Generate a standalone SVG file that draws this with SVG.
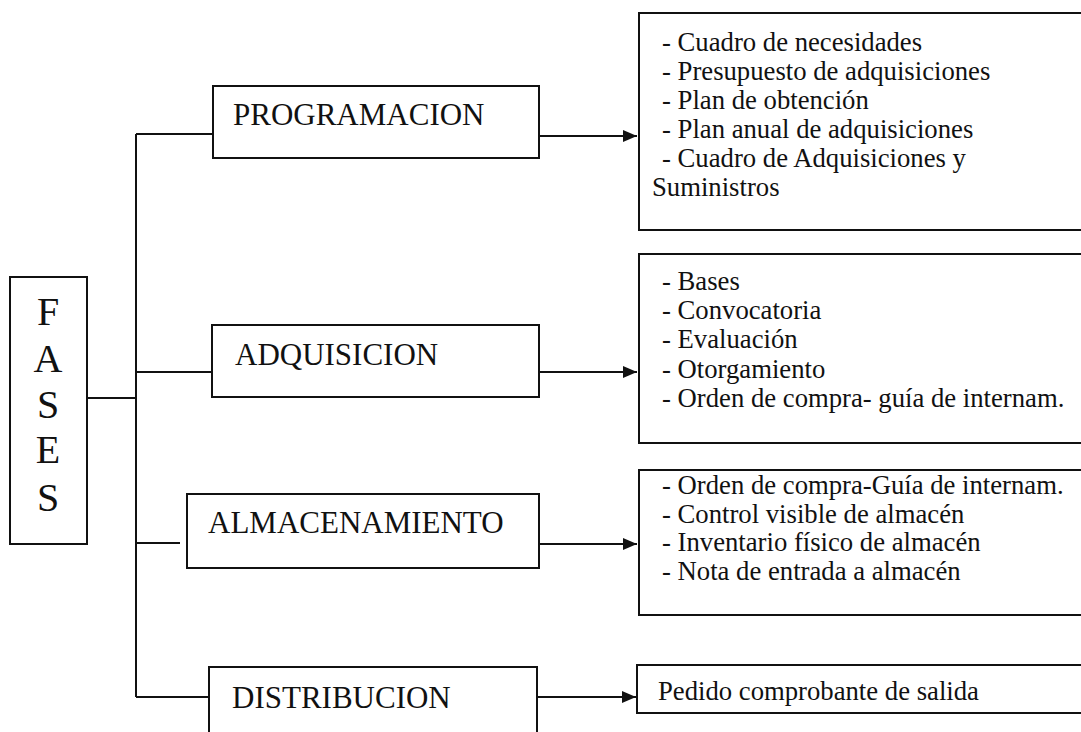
<svg xmlns="http://www.w3.org/2000/svg" width="1081" height="732" viewBox="0 0 1081 732">
<style>
.box{fill:#fff;stroke:#111;stroke-width:2}
.ln{fill:none;stroke:#111;stroke-width:2}
.lbl{font-family:"Liberation Serif","Times New Roman",serif;font-size:31px;fill:#111}
.big{font-family:"Liberation Serif","Times New Roman",serif;font-size:40px;fill:#111;text-anchor:middle}
.it{font-family:"Liberation Serif","Times New Roman",serif;font-size:26.7px;fill:#111}
</style>
<defs>
<marker id="ah" viewBox="0 0 14 12" refX="14" refY="6" markerWidth="14" markerHeight="12" markerUnits="userSpaceOnUse" orient="auto">
<path d="M0,0 L14,6 L0,12 z" fill="#111"/>
</marker>
</defs>
<rect width="1081" height="732" fill="#fff"/>
<g id="connectors">
<path class="ln" d="M136,134 V697"/>
<path class="ln" d="M87,398 H136"/>
<path class="ln" d="M136,134 H213"/>
<path class="ln" d="M136,372 H212"/>
<path class="ln" d="M136,543 H180"/>
<path class="ln" d="M136,697 H209"/>
<path class="ln" d="M539,136 H637" marker-end="url(#ah)"/>
<path class="ln" d="M539,372 H637" marker-end="url(#ah)"/>
<path class="ln" d="M539,544 H637" marker-end="url(#ah)"/>
<path class="ln" d="M537,697 H636" marker-end="url(#ah)"/>
</g>
<g id="fases">
<rect class="box" x="10" y="277" width="77" height="267"/>
<text class="big" x="48" y="325">F</text>
<text class="big" x="48" y="372">A</text>
<text class="big" x="48" y="418">S</text>
<text class="big" x="48" y="463">E</text>
<text class="big" x="48" y="511">S</text>
</g>
<g id="programacion">
<rect class="box" x="213" y="86" width="326" height="72"/>
<text class="lbl" x="233" y="125">PROGRAMACION</text>
</g>
<g id="adquisicion">
<rect class="box" x="212" y="325" width="327" height="72"/>
<text class="lbl" x="235" y="365">ADQUISICION</text>
</g>
<g id="almacenamiento">
<rect class="box" x="187" y="494" width="352" height="74"/>
<text class="lbl" x="208" y="533">ALMACENAMIENTO</text>
</g>
<g id="distribucion">
<rect class="box" x="209" y="667" width="328" height="80"/>
<text class="lbl" x="232" y="708">DISTRIBUCION</text>
</g>
<g id="det-programacion">
<path class="ln" d="M1090,13 H639 V230 H1090"/>
<text class="it" x="662" y="51">- Cuadro de necesidades</text>
<text class="it" x="662" y="80">- Presupuesto de adquisiciones</text>
<text class="it" x="662" y="109">- Plan de obtención</text>
<text class="it" x="662" y="138">- Plan anual de adquisiciones</text>
<text class="it" x="662" y="167">- Cuadro de Adquisiciones y</text>
<text class="it" x="652" y="196">Suministros</text>
</g>
<g id="det-adquisicion">
<path class="ln" d="M1090,254 H639 V443 H1090"/>
<text class="it" x="662" y="290">- Bases</text>
<text class="it" x="662" y="319">- Convocatoria</text>
<text class="it" x="662" y="348">- Evaluación</text>
<text class="it" x="662" y="378">- Otorgamiento</text>
<text class="it" x="662" y="407">- Orden de compra- guía de internam.</text>
</g>
<g id="det-almacenamiento">
<path class="ln" d="M1090,470 H639 V615 H1090"/>
<text class="it" x="662" y="494">- Orden de compra-Guía de internam.</text>
<text class="it" x="662" y="523">- Control visible de almacén</text>
<text class="it" x="662" y="551">- Inventario físico de almacén</text>
<text class="it" x="662" y="580">- Nota de entrada a almacén</text>
</g>
<g id="det-distribucion">
<path class="ln" d="M1090,665 H637 V713 H1090"/>
<text class="it" x="658" y="700">Pedido comprobante de salida</text>
</g>
</svg>
